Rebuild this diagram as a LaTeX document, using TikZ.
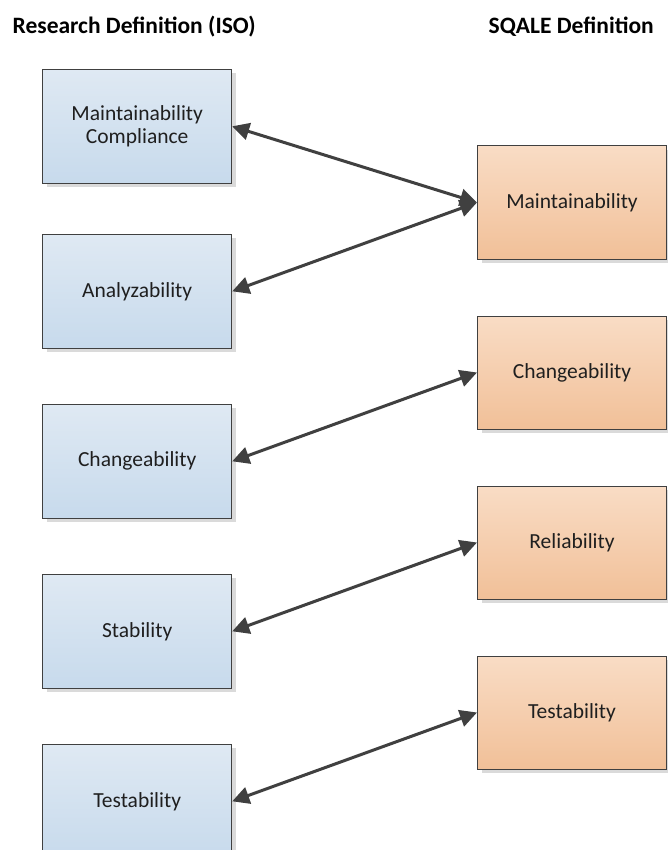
\documentclass[tikz,border=0pt]{standalone}
\usepackage{fontspec}
\setmainfont{Carlito}
\usetikzlibrary{arrows.meta,shadows}

\definecolor{edgegray}{HTML}{404040}
\definecolor{linkgray}{HTML}{404040}
\definecolor{shadowgray}{HTML}{DADADA}
\definecolor{isotop}{HTML}{DFE9F3}
\definecolor{isobot}{HTML}{C7DAEC}
\definecolor{sqaletop}{HTML}{F9DCC5}
\definecolor{sqalebot}{HTML}{F1C098}

\begin{document}
\begin{tikzpicture}[x=1pt,y=-1pt,
  heading/.style={font=\bfseries\fontsize{23.5}{28}\selectfont, inner sep=0pt, text=black},
  box/.style={draw=edgegray, line width=1pt, minimum width=189pt, minimum height=114pt,
    inner sep=0pt, align=center, text=black!88,
    font=\fontsize{21.5}{23.5}\selectfont,
    drop shadow={shadow xshift=4pt, shadow yshift=-4pt, fill=shadowgray, opacity=1}},
  isobox/.style={box, top color=isotop, bottom color=isobot},
  sqalebox/.style={box, top color=sqaletop, bottom color=sqalebot, minimum height=113pt},
  link/.style={draw=linkgray, line width=3pt,
    {Triangle[length=17pt,width=17pt]}-{Triangle[length=17pt,width=17pt]}}
]
  % page area
  \path[fill=white] (0,0) rectangle (668,850);
  \useasboundingbox (0,0) rectangle (668,850);

  % column headings
  \node[heading, anchor=base west] (hiso) at (12.5,34) {Research Definition (ISO)};
  \node[heading, anchor=base east] (hsqale) at (654,34) {SQALE Definition};

  % ISO sub-characteristics
  \node[isobox] (iso1) at (137.2,126.3) {Maintainability\\Compliance};
  \node[isobox] (iso2) at (137.2,291.3) {Analyzability};
  \node[isobox] (iso3) at (137.2,461.3) {Changeability};
  \node[isobox] (iso4) at (137.2,631.3) {Stability};
  \node[isobox] (iso5) at (137.2,801.3) {Testability};

  % SQALE characteristics
  \node[sqalebox] (sq1) at (572,202.5) {Maintainability};
  \node[sqalebox] (sq2) at (572,372.5) {Changeability};
  \node[sqalebox] (sq3) at (572,542.5) {Reliability};
  \node[sqalebox] (sq4) at (572,712.5) {Testability};

  % correspondences
  \draw[link] (iso1.east) -- (sq1.west);
  \draw[link] (iso2.east) -- (sq1.west);
  \draw[link] (iso3.east) -- (sq2.west);
  \draw[link] (iso4.east) -- (sq3.west);
  \draw[link] (iso5.east) -- (sq4.west);
\end{tikzpicture}
\end{document}
